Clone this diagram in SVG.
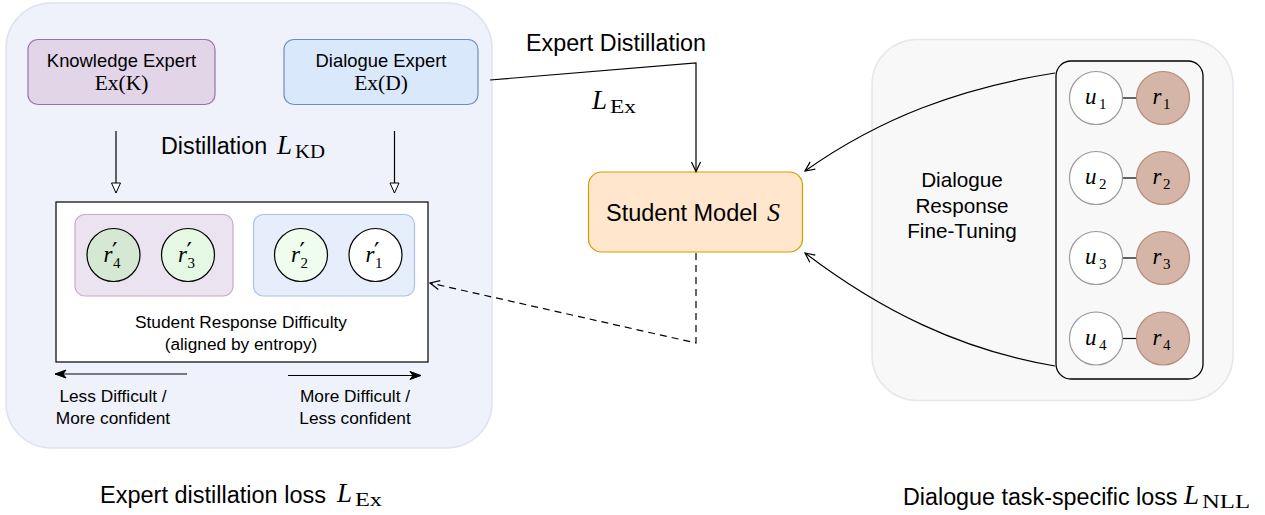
<svg xmlns="http://www.w3.org/2000/svg" width="1265" height="515" viewBox="0 0 1265 515">
<style>
.t{font-family:"Liberation Sans",Arial,sans-serif;fill:#000}
.m{font-family:"Liberation Serif","DejaVu Serif",serif;fill:#000}
.mi{font-family:"Liberation Serif","DejaVu Serif",serif;font-style:italic;fill:#000}
.sub{font-family:"Liberation Serif","DejaVu Serif",serif;font-style:normal}
.pr{font-family:"DejaVu Sans",sans-serif;font-style:normal}
.ln{fill:none;stroke:#000;stroke-width:1.2}
</style>
<defs>
<marker id="hollow" viewBox="-1 -1 12 12" refX="10" refY="5" markerWidth="12" markerHeight="12" markerUnits="userSpaceOnUse" orient="auto">
<path d="M0,0.5 L10,5 L0,9.5 Z" fill="#fff" stroke="#000" stroke-width="1"/>
</marker>
<marker id="open" viewBox="-1 -1 12 12" refX="9.5" refY="5" markerWidth="12" markerHeight="12" markerUnits="userSpaceOnUse" orient="auto">
<path d="M0,0.5 L9.5,5 L0,9.5" fill="none" stroke="#000" stroke-width="1.2"/>
</marker>
<marker id="classic" viewBox="-1 -1 13 12" refX="11" refY="5" markerWidth="13" markerHeight="12" markerUnits="userSpaceOnUse" orient="auto">
<path d="M0,1 L11,5 L0,9 L3,5 Z" fill="#000" stroke="#000" stroke-width="1"/>
</marker>
</defs>

<rect width="1265" height="515" fill="#fff"/>

<!-- Left panel -->
<g id="expert-panel">
<rect x="6" y="3" width="486" height="445" rx="45" fill="#eff2fb" stroke="#dfe3ee" stroke-width="1.5"/>
</g>

<g id="knowledge-expert">
<rect x="28" y="39.5" width="187" height="65" rx="10" fill="#e1d5e7" stroke="#9673a6" stroke-width="1.2"/>
<text class="t" x="121.5" y="67" font-size="18.4" text-anchor="middle">Knowledge Expert</text>
<text class="m" x="121.5" y="89.5" font-size="21.5" text-anchor="middle">Ex(K)</text>
</g>

<g id="dialogue-expert">
<rect x="284" y="39.5" width="194" height="65" rx="10" fill="#dae8fc" stroke="#6c8ebf" stroke-width="1.2"/>
<text class="t" x="381" y="67" font-size="18.4" text-anchor="middle">Dialogue Expert</text>
<text class="m" x="381" y="89.5" font-size="21.5" text-anchor="middle">Ex(D)</text>
</g>

<g id="distillation-label">
<text class="t" x="161" y="154" font-size="23.3">Distillation</text>
<text class="mi" x="277" y="154" font-size="27">L<tspan class="sub" x="295" y="157.5" font-size="18.5" textLength="30" lengthAdjust="spacingAndGlyphs">KD</tspan></text>
</g>

<g id="difficulty-box">
<rect x="56" y="202" width="372" height="160" fill="#fff" stroke="#000" stroke-width="1.2"/>
<text class="t" x="241" y="328" font-size="17.3" text-anchor="middle">Student Response Difficulty</text>
<text class="t" x="241" y="349.5" font-size="17.3" text-anchor="middle">(aligned by entropy)</text>
</g>

<g id="knowledge-group">
<rect x="75" y="214.5" width="158" height="81.5" rx="10" fill="#ece3f1" stroke="#c4a9d0" stroke-width="1.2"/>
</g>
<g id="dialogue-group">
<rect x="253.5" y="214.5" width="161" height="81.5" rx="10" fill="#e7eefb" stroke="#a9c2e6" stroke-width="1.2"/>
</g>

<g id="r4p">
<circle cx="113.5" cy="255" r="26.5" fill="#d5e8d4" stroke="#000" stroke-width="1.2"/>
<text class="mi" x="103.5" y="262" font-size="23">r<tspan class="pr" x="112" y="260" font-size="24">′</tspan><tspan class="sub" x="113" y="268" font-size="15">4</tspan></text>
</g>
<g id="r3p">
<circle cx="188" cy="255" r="26.5" fill="#e5f8e4" stroke="#000" stroke-width="1.2"/>
<text class="mi" x="178" y="262" font-size="23">r<tspan class="pr" x="186.5" y="260" font-size="24">′</tspan><tspan class="sub" x="187.5" y="268" font-size="15">3</tspan></text>
</g>
<g id="r2p">
<circle cx="301" cy="255" r="26.5" fill="#effdef" stroke="#000" stroke-width="1.2"/>
<text class="mi" x="291" y="262" font-size="23">r<tspan class="pr" x="299.5" y="260" font-size="24">′</tspan><tspan class="sub" x="300.5" y="268" font-size="15">2</tspan></text>
</g>
<g id="r1p">
<circle cx="375.5" cy="255" r="26.5" fill="#fff" stroke="#000" stroke-width="1.2"/>
<text class="mi" x="365.5" y="262" font-size="23">r<tspan class="pr" x="374" y="260" font-size="24">′</tspan><tspan class="sub" x="375" y="268" font-size="15">1</tspan></text>
</g>

<g id="less-difficult-label">
<text class="t" x="113" y="402" font-size="17.3" text-anchor="middle">Less Difficult /</text>
<text class="t" x="113" y="423.5" font-size="17.3" text-anchor="middle">More confident</text>
</g>
<g id="more-difficult-label">
<text class="t" x="355" y="402" font-size="17.3" text-anchor="middle">More Difficult /</text>
<text class="t" x="355" y="423.5" font-size="17.3" text-anchor="middle">Less confident</text>
</g>

<g id="expert-distillation-label">
<text class="t" x="616" y="51" font-size="23.3" text-anchor="middle">Expert Distillation</text>
<text class="mi" x="592" y="109" font-size="27">L<tspan class="sub" x="610" y="113" font-size="18.5" textLength="26" lengthAdjust="spacingAndGlyphs">Ex</tspan></text>
</g>

<g id="student-model">
<rect x="588.5" y="172" width="214" height="80" rx="13" fill="#ffe6cc" stroke="#d79b00" stroke-width="1.2"/>
<text class="t" x="606" y="221" font-size="23.5">Student Model</text>
<text class="mi" x="767" y="221" font-size="26">S</text>
</g>

<!-- Right panel -->
<g id="finetune-panel">
<rect x="872" y="39.5" width="361" height="361" rx="45" fill="#f8f8f8" stroke="#e9e4ee" stroke-width="1.5"/>
<text class="t" x="962" y="187" font-size="20.7" text-anchor="middle">Dialogue</text>
<text class="t" x="962" y="212.5" font-size="20.7" text-anchor="middle">Response</text>
<text class="t" x="962" y="237.5" font-size="20.7" text-anchor="middle">Fine-Tuning</text>
</g>

<g id="dialogue-pairs">
<rect x="1056" y="61" width="147" height="318" rx="15" fill="none" stroke="#000" stroke-width="1.3"/>
</g>

<g id="pair-1">
<line x1="1122.5" y1="98" x2="1136.5" y2="98" stroke="#000" stroke-width="1.2"/>
<circle cx="1096" cy="98" r="26.5" fill="#fff" stroke="#9a9a9a" stroke-width="1.2"/>
<circle cx="1163" cy="98" r="26.5" fill="#d5b5a8" stroke="#b98a79" stroke-width="1.2"/>
<text class="mi" x="1085" y="104" font-size="23">u<tspan class="sub" x="1099" y="109" font-size="15">1</tspan></text>
<text class="mi" x="1152.5" y="104" font-size="23">r<tspan class="sub" x="1163" y="109" font-size="15">1</tspan></text>
</g>
<g id="pair-2">
<line x1="1122.5" y1="178" x2="1136.5" y2="178" stroke="#000" stroke-width="1.2"/>
<circle cx="1096" cy="178" r="26.5" fill="#fff" stroke="#9a9a9a" stroke-width="1.2"/>
<circle cx="1163" cy="178" r="26.5" fill="#d5b5a8" stroke="#b98a79" stroke-width="1.2"/>
<text class="mi" x="1085" y="184" font-size="23">u<tspan class="sub" x="1099" y="189" font-size="15">2</tspan></text>
<text class="mi" x="1152.5" y="184" font-size="23">r<tspan class="sub" x="1163" y="189" font-size="15">2</tspan></text>
</g>
<g id="pair-3">
<line x1="1122.5" y1="258" x2="1136.5" y2="258" stroke="#000" stroke-width="1.2"/>
<circle cx="1096" cy="258" r="26.5" fill="#fff" stroke="#9a9a9a" stroke-width="1.2"/>
<circle cx="1163" cy="258" r="26.5" fill="#d5b5a8" stroke="#b98a79" stroke-width="1.2"/>
<text class="mi" x="1085" y="264" font-size="23">u<tspan class="sub" x="1099" y="269" font-size="15">3</tspan></text>
<text class="mi" x="1152.5" y="264" font-size="23">r<tspan class="sub" x="1163" y="269" font-size="15">3</tspan></text>
</g>
<g id="pair-4">
<line x1="1122.5" y1="338.5" x2="1136.5" y2="338.5" stroke="#000" stroke-width="1.2"/>
<circle cx="1096" cy="338.5" r="26.5" fill="#fff" stroke="#9a9a9a" stroke-width="1.2"/>
<circle cx="1163" cy="338.5" r="26.5" fill="#d5b5a8" stroke="#b98a79" stroke-width="1.2"/>
<text class="mi" x="1085" y="344.5" font-size="23">u<tspan class="sub" x="1099" y="349.5" font-size="15">4</tspan></text>
<text class="mi" x="1152.5" y="344.5" font-size="23">r<tspan class="sub" x="1163" y="349.5" font-size="15">4</tspan></text>
</g>

<g id="bottom-labels">
<text class="t" x="100" y="503" font-size="23.5">Expert distillation loss</text>
<text class="mi" x="337" y="502" font-size="27">L<tspan class="sub" x="355" y="506" font-size="18.5" textLength="27" lengthAdjust="spacingAndGlyphs">Ex</tspan></text>
<text class="t" x="903" y="505" font-size="23.3">Dialogue task-specific loss</text>
<text class="mi" x="1184" y="504" font-size="27">L<tspan class="sub" x="1202" y="508" font-size="18.5" textLength="48" lengthAdjust="spacingAndGlyphs">NLL</tspan></text>
</g>

<g id="connectors">
<line class="ln" x1="116" y1="131" x2="116" y2="193" marker-end="url(#hollow)"/>
<line class="ln" x1="394.5" y1="131" x2="394.5" y2="193" marker-end="url(#hollow)"/>
<line class="ln" x1="187" y1="374" x2="55" y2="374" marker-end="url(#classic)"/>
<line class="ln" x1="288" y1="375.5" x2="421" y2="375.5" marker-end="url(#classic)"/>
<path class="ln" d="M490,80 L696,63 L696,171.5" marker-end="url(#open)"/>
<path class="ln" d="M696,253 L696,343 L430,283" stroke-width="1.4" stroke-dasharray="7 5" marker-end="url(#open)"/>
<path class="ln" d="M1055,73 C960,88 880,118 805,171" marker-end="url(#open)"/>
<path class="ln" d="M1055,366 C960,350 880,310 805,253" marker-end="url(#open)"/>
</g>
</svg>
